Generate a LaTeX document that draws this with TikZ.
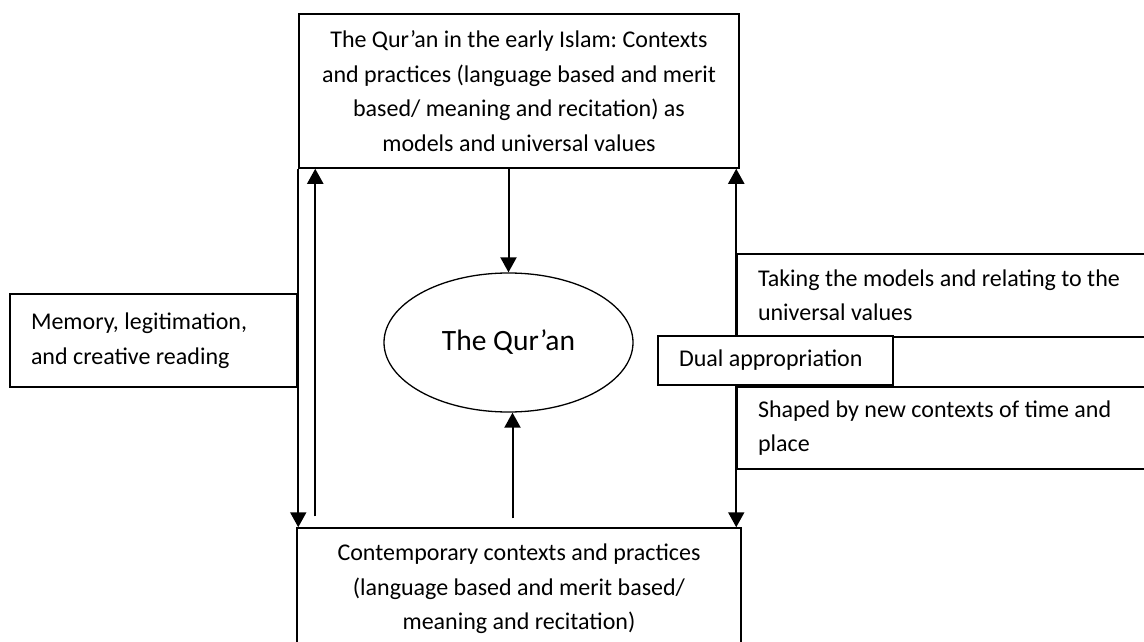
\documentclass[tikz,border=0pt]{standalone}
\usepackage{fontspec}
\setmainfont{Carlito}
\usetikzlibrary{arrows.meta,shapes.geometric,calc}
\begin{document}
\begin{tikzpicture}[x=1pt,y=-1pt,>={Triangle[width=16pt,length=15pt]},
    box/.style={draw,line width=1.5pt,fill=white,inner ysep=0pt,font=\fontsize{24}{34.5}\selectfont\frenchspacing},
    leftbox/.style={box,align=flush left,inner xsep=21pt},
    flow/.style={line width=2pt}]
    \useasboundingbox(0,0)rectangle(1144,642);
    \clip(0,0)rectangle(1144,642);
    \node[box,align=center,minimum width=440pt,minimum height=154pt](early)at(519,91)
        {The Qur’an in the early Islam: Contexts\\and practices (language based and merit\\based/ meaning and recitation) as\\models and universal values};
    \node[box,align=center,minimum width=444pt,minimum height=122pt](now)at(519,589)
        {Contemporary contexts and practices\\(language based and merit based/\\meaning and recitation)};
    \node[draw,ellipse,line width=1.3pt,inner sep=0pt,minimum width=249pt,minimum height=139pt,
        font=\fontsize{29.5}{34}\selectfont](quran)at(508.5,342.5){The Qur’an};
    \node[leftbox,text width=245pt,minimum height=93pt](memory)at(153.5,340.5)
        {Memory, legitimation,\\and creative reading};
    \node[leftbox,text width=401pt,minimum height=83pt](taking)at(958.5,295.5)
        {Taking the models and relating to the\\universal values};
    \node[leftbox,text width=401pt,minimum height=82pt](shaped)at(958.5,428)
        {Shaped by new contexts of time and\\place};
    % arrows between the boxes
    \draw[flow,->](early.south west)--(early.south west|-now.north);
    \draw[flow,->]($(early.south west|-now.north)+(17,-11)$)--($(early.south west)+(17,0)$);
    \draw[flow,->](quran.north|-early.south)--(quran.north);
    \draw[flow,->]($(quran.south|-now.north)+(4,-9)$)--($(quran.south)+(4,0)$);
    \draw[flow,<->](taking.west|-early.south)--(taking.west|-now.north);
    \node[leftbox,text width=193pt,minimum height=49pt](dual)at(775.5,360.5){Dual appropriation};
\end{tikzpicture}
\end{document}
